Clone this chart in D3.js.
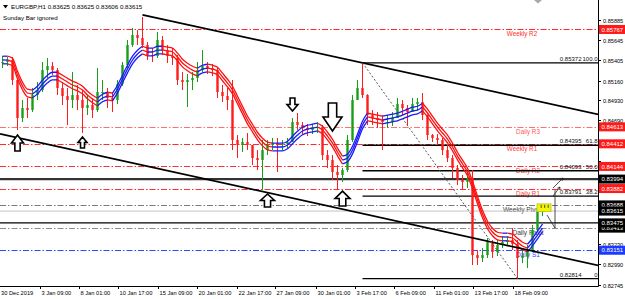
<!DOCTYPE html>
<html>
<head>
<meta charset="utf-8">
<script src="https://cdn.jsdelivr.net/npm/d3@7"></script>
<style>
html, body { margin: 0; padding: 0; background: #fff; }
svg { display: block; font-family: "Liberation Sans", Arial, sans-serif; }
</style>
</head>
<body>
<div id="chart"></div>
<script>
// ---- data ----
const symbol = "EURGBP,H1";
const lastQuote = [0.83625, 0.83625, 0.83606, 0.83615];
const note = "Sunday Bar ignored";

const firstOpen = 0.85381;
const highs = [
  0.85452, 0.85441, 0.85441, 0.85180, 0.84931, 0.84955, 0.85073, 0.85144, 0.85381, 0.85429,
  0.85381, 0.85310, 0.85144, 0.85073, 0.85263, 0.85109, 0.85049, 0.84990, 0.84955, 0.85310,
  0.85168, 0.85073, 0.85026, 0.85168, 0.85381, 0.85642, 0.85784, 0.85760, 0.85915, 0.85618,
  0.85547, 0.85737, 0.85689, 0.85583, 0.85547, 0.85464, 0.85263, 0.85239, 0.85263, 0.85381,
  0.85523, 0.85381, 0.85358, 0.85310, 0.85109, 0.85073, 0.85168, 0.84516, 0.84481, 0.84540,
  0.84398, 0.84338, 0.84457, 0.84457, 0.84481, 0.84481, 0.84457, 0.84481, 0.84718, 0.84777,
  0.84670, 0.84647, 0.84647, 0.84670, 0.84635, 0.84338, 0.84279, 0.84161, 0.84125, 0.84516,
  0.84990, 0.85168, 0.85372, 0.85000, 0.84812, 0.84789, 0.84753, 0.84753, 0.84789, 0.84955,
  0.84931, 0.84872, 0.84955, 0.84955, 0.85014, 0.84760, 0.84528, 0.84528, 0.84481, 0.84398,
  0.84279, 0.84161, 0.84042, 0.84078, 0.84101, 0.83153, 0.83177, 0.83296, 0.83272, 0.83272,
  0.83319, 0.83319, 0.83414, 0.83272, 0.83153, 0.83213, 0.83450, 0.83687, 0.83675
];
const lows = [
  0.85310, 0.85334, 0.85109, 0.84575, 0.84670, 0.84718, 0.84789, 0.84931, 0.85026, 0.85192,
  0.85227, 0.84990, 0.84872, 0.84635, 0.84836, 0.84812, 0.84540, 0.84753, 0.84718, 0.84789,
  0.84931, 0.84836, 0.84789, 0.84884, 0.85097, 0.85310, 0.85560, 0.85583, 0.85547, 0.85405,
  0.85381, 0.85429, 0.85464, 0.85369, 0.85346, 0.85109, 0.85049, 0.84848, 0.85049, 0.85144,
  0.85263, 0.85239, 0.85215, 0.84955, 0.84907, 0.84812, 0.84338, 0.84244, 0.84315, 0.84338,
  0.84161, 0.84101, 0.83864, 0.84279, 0.84338, 0.84078, 0.84338, 0.84362, 0.84433, 0.84575,
  0.84516, 0.84504, 0.84528, 0.84540, 0.84220, 0.84125, 0.83983, 0.83864, 0.83959, 0.84078,
  0.84433, 0.84931, 0.84955, 0.84635, 0.84635, 0.84599, 0.84338, 0.84599, 0.84623, 0.84718,
  0.84753, 0.84635, 0.84789, 0.84812, 0.84694, 0.84457, 0.84433, 0.84398, 0.84279, 0.84196,
  0.84007, 0.83924, 0.83864, 0.83888, 0.82976, 0.82976, 0.83011, 0.83059, 0.83059, 0.83082,
  0.83177, 0.83201, 0.83153, 0.82814, 0.82999, 0.82940, 0.83130, 0.83367, 0.83556
];
const closes = [
  0.85381, 0.85405, 0.85168, 0.84718, 0.84836, 0.84812, 0.84990, 0.85049, 0.85286, 0.85334,
  0.85286, 0.85073, 0.84978, 0.84931, 0.84990, 0.84931, 0.84836, 0.84872, 0.84812, 0.85026,
  0.85026, 0.84955, 0.84931, 0.85121, 0.85346, 0.85583, 0.85701, 0.85666, 0.85583, 0.85464,
  0.85452, 0.85642, 0.85523, 0.85452, 0.85429, 0.85168, 0.85144, 0.85168, 0.85192, 0.85286,
  0.85334, 0.85310, 0.85286, 0.85026, 0.84978, 0.84931, 0.84457, 0.84398, 0.84433, 0.84398,
  0.84244, 0.84220, 0.84338, 0.84398, 0.84421, 0.84398, 0.84410, 0.84433, 0.84670, 0.84635,
  0.84599, 0.84575, 0.84599, 0.84611, 0.84279, 0.84220, 0.84078, 0.84042, 0.84101, 0.84457,
  0.84931, 0.85073, 0.84990, 0.84753, 0.84718, 0.84694, 0.84670, 0.84670, 0.84718, 0.84884,
  0.84836, 0.84789, 0.84884, 0.84907, 0.84753, 0.84516, 0.84481, 0.84457, 0.84338, 0.84244,
  0.84125, 0.83983, 0.83959, 0.84007, 0.83094, 0.83059, 0.83094, 0.83248, 0.83130, 0.83213,
  0.83248, 0.83272, 0.83225, 0.83059, 0.83082, 0.83153, 0.83390, 0.83604, 0.83615
];
// centre line of the moving-average ribbon
const ribbonMid = [
  0.85405, 0.85405, 0.85381, 0.85227, 0.85097, 0.85014, 0.85002, 0.85049, 0.85121, 0.85180,
  0.85215, 0.85215, 0.85180, 0.85144, 0.85109, 0.85085, 0.85049, 0.84990, 0.84943, 0.84907,
  0.84955, 0.84978, 0.84967, 0.85061, 0.85180, 0.85298, 0.85405, 0.85476, 0.85523, 0.85500,
  0.85500, 0.85523, 0.85523, 0.85512, 0.85500, 0.85441, 0.85369, 0.85322, 0.85286, 0.85263,
  0.85298, 0.85310, 0.85298, 0.85275, 0.85204, 0.85132, 0.85049, 0.84931, 0.84812, 0.84694,
  0.84599, 0.84504, 0.84433, 0.84386, 0.84374, 0.84374, 0.84374, 0.84398, 0.84457, 0.84516,
  0.84564, 0.84587, 0.84599, 0.84611, 0.84575, 0.84504, 0.84421, 0.84315, 0.84220, 0.84244,
  0.84338, 0.84481, 0.84635, 0.84730, 0.84718, 0.84706, 0.84694, 0.84706, 0.84718, 0.84730,
  0.84753, 0.84777, 0.84801, 0.84812, 0.84848, 0.84777, 0.84694, 0.84611, 0.84540, 0.84469,
  0.84374, 0.84267, 0.84173, 0.84078, 0.83924, 0.83746, 0.83580, 0.83450, 0.83367, 0.83319,
  0.83308, 0.83308, 0.83296, 0.83248, 0.83201, 0.83177, 0.83248, 0.83331, 0.83414
];

const timeLabels = ["30 Dec 2019", "3 Jan 09:00", "8 Jan 01:00", "10 Jan 17:00", "15 Jan 09:00",
  "20 Jan 01:00", "22 Jan 17:00", "27 Jan 09:00", "30 Jan 01:00", "3 Feb 17:00",
  "6 Feb 09:00", "11 Feb 01:00", "13 Feb 17:00", "18 Feb 09:00"];
const timeTickBars = [-0.5, 7.5, 15.3, 23.1, 31.1, 38.9, 46.9, 54.5, 62.7, 70.5, 78.3, 86.3, 94.1, 102.1];

const priceTicks = [0.85885, 0.85645, 0.85405, 0.85160, 0.84930, 0.84690, 0.84450, 0.84210,
  0.83970, 0.83730, 0.83490, 0.83230, 0.82990, 0.82745];

const pivotNames = ["Weekly R2", "Daily R3", "Weekly R1", "Daily R2", "Daily R1", "Weekly Pivot", "Daily Pivot", "Daily S1"];
const pivotValues = [0.85767, 0.84613, 0.84412, 0.84144, 0.83882, 0.83688, 0.83413, 0.83151];

const fibPercents = ["100.0", "61.8", "50.0", "38.2", "0"];
const fibValues = [0.85372, 0.84395, 0.84093, 0.83791, 0.82814];
const fibStartBar = 72;

const solidLevels = [0.83994, 0.83475];
const bidPrice = 0.83615;

const channelUpper = [[28, 0.8594], [120, 0.8475]];
const channelLower = [[-0.5, 0.8453], [120, 0.8296]];
const fibAnchor = [[72, 0.85372], [103, 0.82814]];

const signalBars = [3, 16, 53, 68, 58, 66];
const signalDirs = ["up", "up", "up", "up", "down", "down"];
const signalPrices = [0.84516, 0.84493, 0.83817, 0.83852, 0.84801, 0.84564];

const tradeBoxBars = [106.9, 109.7];
const tradeBoxPrices = [0.83700, 0.83610];
const projPath = [[108.9, 0.83568], [110.5, 0.83414], [110.5, 0.83864]];
const projArrows = [[[110.1, 0.83793], [111.5, 0.83900]], [[110.1, 0.83888], [112.1, 0.84007]]];

// ---- styles ----
const W = 625, H = 299;
const plotRight = 598, plotBottom = 286;
const bull = "#17a017", bear = "#ff1c1c";
const ribbonUp = "#1a1aff", ribbonDown = "#ff1010";
const ribbonOffsets = [-0.00045, 0, 0.00045];
const pivotStyle = {
  "Weekly R2": { line: "#ff2a2a", text: "#ff2a2a", box: "#ff1a1a", cx: 522 },
  "Daily R3": { line: "#ff7070", text: "#ff5a5a", box: "#ff1a1a", cx: 528 },
  "Weekly R1": { line: "#ff2a2a", text: "#ff3a3a", box: "#ff1a1a", cx: 522 },
  "Daily R2": { line: "#ff3030", text: "#ff4040", box: "#ff1a1a", cx: 528 },
  "Daily R1": { line: "#ff3030", text: "#ff4040", box: "#ff1a1a", cx: 528 },
  "Weekly Pivot": { line: "#7a7a7a", text: "#3a3a3a", box: "#000", cx: 522 },
  "Daily Pivot": { line: "#8a8a8a", text: "#3a3a3a", box: "#000", cx: 528 },
  "Daily S1": { line: "#2a4aff", text: "#3a3aff", box: "#1a3aff", cx: 528 }
};
const arrowSizes = [[12, 16], [9, 11], [14, 13], [15, 15], [11, 13], [19, 28]];

const svg = d3.select("#chart").append("svg")
  .attr("width", W).attr("height", H);

svg.append("rect").attr("width", W).attr("height", H).attr("fill", "#fff");

const x = d3.scaleLinear().domain([-0.5, 119.1]).range([0, plotRight]);
const y = d3.scaleLinear().domain([0.82745, 0.85885]).range([284.5, 19.5]);

svg.append("clipPath").attr("id", "plot")
  .append("rect").attr("x", 0).attr("y", 0).attr("width", plotRight).attr("height", plotBottom);

const plot = svg.append("g").attr("clip-path", "url(#plot)");

// pivot levels
pivotNames.forEach((name, k) => {
  const st = pivotStyle[name];
  const yy = Math.round(y(pivotValues[k])) + 0.5;
  plot.append("line")
    .attr("x1", 0).attr("x2", plotRight).attr("y1", yy).attr("y2", yy)
    .attr("stroke", st.line).attr("stroke-width", 1)
    .attr("stroke-dasharray", "6,2,1.5,2");
  plot.append("text")
    .attr("x", st.cx).attr("y", yy + 6.5)
    .attr("text-anchor", "middle")
    .attr("font-size", name.includes("Pivot") ? 6.6 : 6.3)
    .attr("fill", st.text)
    .text(name);
});

// bid line and solid levels
plot.append("line")
  .attr("x1", 0).attr("x2", plotRight)
  .attr("y1", y(bidPrice)).attr("y2", y(bidPrice))
  .attr("stroke", "#c4c4c4").attr("stroke-width", 1);
solidLevels.forEach((v, k) => {
  plot.append("line")
    .attr("x1", 0).attr("x2", plotRight)
    .attr("y1", y(v)).attr("y2", y(v))
    .attr("stroke", k === 0 ? "#333" : "#000")
    .attr("stroke-width", k === 0 ? 2.2 : 1.3);
});

// fibonacci levels
fibValues.forEach((v, k) => {
  const yy = y(v);
  plot.append("line")
    .attr("x1", x(fibStartBar)).attr("x2", plotRight)
    .attr("y1", yy).attr("y2", yy)
    .attr("stroke", "#000").attr("stroke-width", 1.3);
  plot.append("text")
    .attr("x", 581.5).attr("y", yy - 1.8)
    .attr("text-anchor", "end").attr("font-size", 6).attr("fill", "#111")
    .text(v.toFixed(5));
  plot.append("text")
    .attr("x", 597.5).attr("y", yy - 1.8)
    .attr("text-anchor", "end").attr("font-size", 6).attr("fill", "#111")
    .text(fibPercents[k]);
});

// candles
const opens = closes.map((c, i) => i === 0 ? firstOpen : closes[i - 1]);
const bars = plot.append("g");
closes.forEach((c, i) => {
  const o = opens[i];
  const col = c >= o ? bull : bear;
  const cx = x(i);
  bars.append("line")
    .attr("x1", cx).attr("x2", cx)
    .attr("y1", y(highs[i])).attr("y2", y(lows[i]))
    .attr("stroke", col).attr("stroke-width", 1);
  const top = y(Math.max(o, c)), bot = y(Math.min(o, c));
  bars.append("rect")
    .attr("x", cx - 1.2).attr("width", 2.4)
    .attr("y", top).attr("height", Math.max(1, bot - top))
    .attr("fill", col);
});

// moving-average ribbon, blue while rising and red while falling
const runs = [];
d3.range(ribbonMid.length - 1).forEach(i => {
  const up = ribbonMid[i + 1] >= ribbonMid[i];
  const last = runs[runs.length - 1];
  if (last && last.up === up) last.end = i + 1;
  else runs.push({ up, start: i, end: i + 1 });
});
const ribbon = plot.append("g");
runs.forEach(r => {
  ribbonOffsets.forEach(off => {
    ribbon.append("path")
      .datum(d3.range(r.start, r.end + 1))
      .attr("d", d3.line().x(i => x(i)).y(i => y(ribbonMid[i] + off)).curve(d3.curveMonotoneX))
      .attr("fill", "none")
      .attr("stroke", r.up ? ribbonUp : ribbonDown)
      .attr("stroke-width", 1.3);
  });
});

// channel trendlines and fib anchor
const seg = d3.line().x(d => x(d[0])).y(d => y(d[1]));
[channelUpper, channelLower].forEach(c => {
  plot.append("path").attr("d", seg(c))
    .attr("stroke", "#000").attr("stroke-width", 1.7).attr("fill", "none");
});
plot.append("path").attr("d", seg(fibAnchor))
  .attr("stroke", "#555").attr("stroke-width", 1)
  .attr("stroke-dasharray", "2,2").attr("fill", "none");

// signal arrows
signalBars.forEach((b, k) => {
  const [w, h] = arrowSizes[k];
  const tx = x(b), ty = y(signalPrices[k]);
  const s = signalDirs[k] === "up" ? 1 : -1;
  const hh = h * 0.5;
  const pts = [
    [0, 0], [w / 2, hh], [w * 0.22, hh], [w * 0.22, h],
    [-w * 0.22, h], [-w * 0.22, hh], [-w / 2, hh]
  ].map(p => [tx + p[0], ty + s * p[1]]);
  plot.append("polygon")
    .attr("points", pts.map(p => p.join(",")).join(" "))
    .attr("fill", "#fff").attr("stroke", "#000").attr("stroke-width", 1.6)
    .attr("stroke-linejoin", "miter");
});

// trade box and projection lines
plot.append("rect")
  .attr("x", x(tradeBoxBars[0])).attr("y", y(tradeBoxPrices[0]))
  .attr("width", x(tradeBoxBars[1]) - x(tradeBoxBars[0]))
  .attr("height", y(tradeBoxPrices[1]) - y(tradeBoxPrices[0]))
  .attr("fill", "#f4f40a").attr("stroke", "#b8c800").attr("stroke-width", 0.8);
[0.3, 0.55, 0.8].forEach(f => {
  const xx = x(tradeBoxBars[0]) + f * (x(tradeBoxBars[1]) - x(tradeBoxBars[0]));
  plot.append("line")
    .attr("x1", xx).attr("x2", xx)
    .attr("y1", y(tradeBoxPrices[0]) + 1).attr("y2", y(tradeBoxPrices[0]) + 4)
    .attr("stroke", "#222").attr("stroke-width", 0.8);
});
plot.append("path").attr("d", seg(projPath))
  .attr("stroke", "#222").attr("stroke-width", 0.8).attr("fill", "none");
projArrows.forEach(a => {
  const [p0, p1] = a.map(d => [x(d[0]), y(d[1])]);
  const ang = Math.atan2(p1[1] - p0[1], p1[0] - p0[0]);
  const hl = 3;
  plot.append("path")
    .attr("d", `M${p0[0]},${p0[1]}L${p1[0]},${p1[1]}` +
      `M${p1[0] - hl * Math.cos(ang - 0.5)},${p1[1] - hl * Math.sin(ang - 0.5)}L${p1[0]},${p1[1]}` +
      `L${p1[0] - hl * Math.cos(ang + 0.5)},${p1[1] - hl * Math.sin(ang + 0.5)}`)
    .attr("stroke", "#222").attr("stroke-width", 0.8).attr("fill", "none");
});

// shift marker at top
svg.append("path").attr("d", "M534,0L542,0L538,3.5Z").attr("fill", "#a8a8a8");

// frame
svg.append("line").attr("x1", plotRight + 0.5).attr("x2", plotRight + 0.5)
  .attr("y1", 0).attr("y2", plotBottom + 0.5).attr("stroke", "#000");
svg.append("line").attr("x1", 0).attr("x2", plotRight + 0.5)
  .attr("y1", plotBottom + 0.5).attr("y2", plotBottom + 0.5).attr("stroke", "#000");

// right price axis: level boxes hide the regular labels they sit on
const boxes = pivotNames.map((n, k) => ({ v: pivotValues[k], c: pivotStyle[n].box }))
  .concat(solidLevels.map(v => ({ v, c: "#000" })))
  .concat([{ v: bidPrice, c: "#000" }]);
const yAxis = svg.append("g").attr("font-size", 5.6);
priceTicks.forEach(v => {
  const yy = Math.round(y(v)) + 0.5;
  yAxis.append("line").attr("x1", plotRight).attr("x2", plotRight + 3)
    .attr("y1", yy).attr("y2", yy).attr("stroke", "#000");
  const near = d3.min(boxes, b => Math.abs(y(b.v) - yy));
  if (near >= 5) {
    yAxis.append("text").attr("x", 603).attr("y", yy + 2).attr("fill", "#000").text(v.toFixed(5));
  }
});
boxes.forEach(b => {
  const yy = y(b.v);
  yAxis.append("rect").attr("x", 599).attr("y", yy - 4.5).attr("width", 26).attr("height", 9)
    .attr("fill", b.c);
  yAxis.append("text").attr("x", 601.5).attr("y", yy + 2.1).attr("fill", "#fff")
    .attr("font-size", 6).text(b.v.toFixed(5));
});

// bottom time axis
const xAxis = svg.append("g").attr("font-size", 5.7);
timeTickBars.forEach((b, k) => {
  const xx = Math.round(x(b)) + 0.5;
  if (k > 0) {
    xAxis.append("line").attr("x1", xx).attr("x2", xx)
      .attr("y1", plotBottom).attr("y2", plotBottom + 3).attr("stroke", "#000");
  }
  xAxis.append("text").attr("x", k === 0 ? 1 : xx + 1).attr("y", 294.5)
    .attr("fill", "#000").text(timeLabels[k]);
});

// header
svg.append("path").attr("d", "M3,5L8,5L5.5,8.5Z").attr("fill", "#000");
svg.append("text").attr("x", 11).attr("y", 9).attr("font-size", 6.2)
  .text(symbol + "  " + lastQuote.map(v => v.toFixed(5)).join(" "));
svg.append("text").attr("x", 3).attr("y", 19.5).attr("font-size", 6.2)
  .text(note);
</script>
</body>
</html>
